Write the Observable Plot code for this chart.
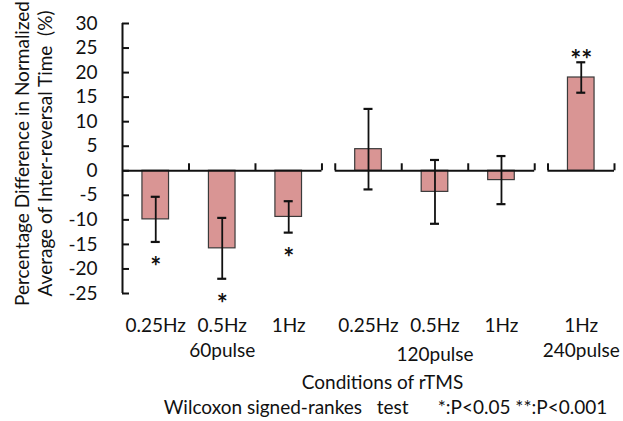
<!DOCTYPE html>
<html><head><meta charset="utf-8">
<script src="https://cdn.jsdelivr.net/npm/d3@7"></script>
<script src="https://cdn.jsdelivr.net/npm/@observablehq/plot@0.6"></script>
<style>body{margin:0;background:#fff} svg{display:block} svg text{white-space:pre}</style>
</head><body><div id="chart"></div>
<script>
// ---- data ----
const conditions = ["0.25Hz", "0.5Hz", "1Hz", "0.25Hz", "0.5Hz", "1Hz", "1Hz"];
const pulseGroups = ["60pulse", "120pulse", "240pulse"];
const groupIndex = [0, 0, 0, 1, 1, 1, 2];
const meanDiff = [-9.9, -15.8, -9.4, 4.4, -4.3, -1.9, 19.0];
const errorSD = [4.6, 6.2, 3.2, 8.2, 6.5, 4.9, 3.1];
const significance = ["*", "*", "*", "", "", "", "**"];
const yTicks = [30, 25, 20, 15, 10, 5, 0, -5, -10, -15, -20, -25];
const yTitle = ["Percentage Difference in Normalized", "Average of Inter-reversal Time  (%)"];
const xTitle = "Conditions of rTMS";
const note = "Wilcoxon signed-rankes   test      *:P<0.05 **:P<0.001";

// ---- layout ----
const W = 623, H = 421, mL = 122, mR = 9, mT = 23, mB = 128;
const GAP = 0.2;
const U = conditions.length + (pulseGroups.length - 1) * GAP;
const pxX = (W - mL - mR) / U;
const pxY = (H - mT - mB) / (yTicks[0] - yTicks[yTicks.length - 1]);
const FONT = "Lato";

const rows = conditions.map((c, i) => ({
  cond: c,
  g: groupIndex[i],
  pos: i + 0.5 + groupIndex[i] * GAP,
  mean: meanDiff[i],
  lo: meanDiff[i] - errorSD[i],
  hi: meanDiff[i] + errorSD[i],
  sig: significance[i]
}));
const groups = pulseGroups.map((name, g) => {
  const idx = rows.map((r, i) => i).filter(i => groupIndex[i] === g);
  const start = idx[0] + g * GAP, end = idx[idx.length - 1] + 1 + g * GAP;
  return {name, start, end, mid: (start + end) / 2};
});
const bounds = [];
groups.forEach(gr => { for (let b = gr.start; b <= gr.end + 1e-9; b += 1) if (b > 1e-9) bounds.push(b); });

const tickX = 7 / pxX, tickY = 7 / pxY, cap = 4.5 / pxX, hw = 0.2;
const ink = "#111";
const fs = 19;

const chart = Plot.plot({
  width: W, height: H,
  marginLeft: mL, marginRight: mR, marginTop: mT, marginBottom: mB,
  style: {fontFamily: FONT, background: "#fff", overflow: "visible"},
  x: {domain: [0, U], axis: null},
  y: {domain: [yTicks[yTicks.length - 1], yTicks[0]], axis: null},
  marks: [
    Plot.rect(rows, {x1: d => d.pos - hw, x2: d => d.pos + hw, y1: 0, y2: "mean",
      fill: "#d99594", stroke: "#3a3a3a", strokeWidth: 1.2}),
    // y axis
    Plot.ruleX([0], {y1: yTicks[yTicks.length - 1], y2: yTicks[0], stroke: ink, strokeWidth: 2}),
    Plot.ruleY(yTicks, {y: d => d, x1: 0, x2: tickX, stroke: ink, strokeWidth: 2}),
    Plot.text(yTicks, {x: 0, y: d => d, text: d => String(d), textAnchor: "end", dx: -25,
      fontSize: fs, fontFamily: FONT, fill: ink}),
    // x axis segments
    Plot.ruleY(groups, {y: 0, x1: "start", x2: "end", stroke: ink, strokeWidth: 2}),
    Plot.ruleX(bounds, {x: d => d, y1: 0, y2: tickY, stroke: ink, strokeWidth: 2}),
    // error bars
    Plot.ruleX(rows, {x: "pos", y1: "lo", y2: "hi", stroke: ink, strokeWidth: 1.8}),
    Plot.ruleY(rows, {y: "lo", x1: d => d.pos - cap, x2: d => d.pos + cap, stroke: ink, strokeWidth: 2.2}),
    Plot.ruleY(rows, {y: "hi", x1: d => d.pos - cap, x2: d => d.pos + cap, stroke: ink, strokeWidth: 2.2}),
    // significance stars
    Plot.text(rows.filter(d => d.sig && d.mean < 0), {x: "pos", y: "lo", text: "sig", dy: 26,
      fontSize: 26, fontWeight: "bold", fontFamily: FONT, fill: ink}),
    Plot.text(rows.filter(d => d.sig && d.mean > 0), {x: "pos", y: "hi", text: "sig", dy: -2,
      fontSize: 26, fontWeight: "bold", fontFamily: FONT, fill: ink}),
    // category labels
    Plot.text(rows, {x: "pos", text: "cond", frameAnchor: "bottom", dy: 38,
      fontSize: fs, fontFamily: FONT, fill: ink}),
    Plot.text(groups.filter(d => d.name !== "120pulse"), {x: "mid", text: "name", frameAnchor: "bottom", dy: 63,
      fontSize: fs, fontFamily: FONT, fill: ink}),
    Plot.text(groups.filter(d => d.name === "120pulse"), {x: "mid", text: "name", frameAnchor: "bottom", dy: 67,
      fontSize: fs, fontFamily: FONT, fill: ink}),
    // titles
    Plot.text([xTitle], {frameAnchor: "bottom", text: d => d, dx: 14, dy: 95,
      fontSize: fs, fontFamily: FONT, fill: ink}),
    Plot.text([note], {frameAnchor: "bottom", text: d => d, dx: 17, dy: 120,
      fontSize: fs, fontFamily: FONT, fill: ink}),
    Plot.text([yTitle[0]], {frameAnchor: "left", textAnchor: "middle", text: d => d, dx: -100, dy: -5, rotate: -90,
      fontSize: fs, fontFamily: FONT, fill: ink}),
    Plot.text([yTitle[1]], {frameAnchor: "left", textAnchor: "middle", text: d => d, dx: -77, dy: -5, rotate: -90,
      fontSize: fs, fontFamily: FONT, fill: ink})
  ]
});
document.getElementById("chart").append(chart);
</script>
</body></html>
